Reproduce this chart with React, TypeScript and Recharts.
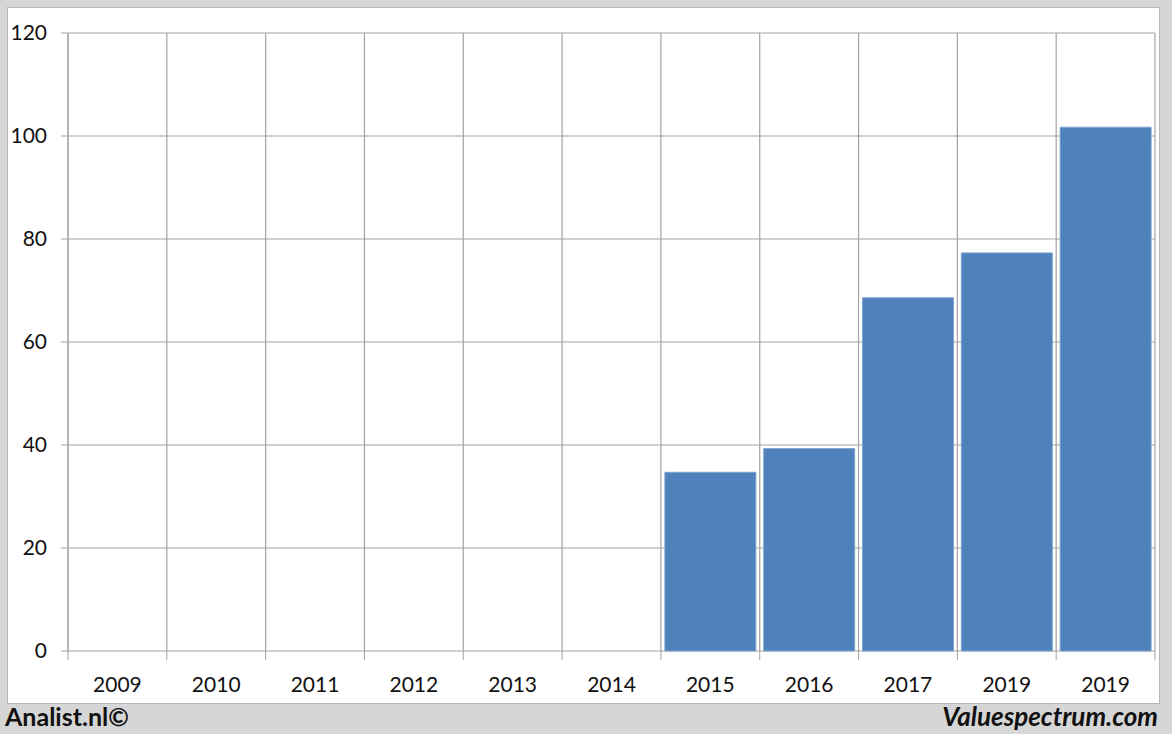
import { Bar, BarChart, CartesianGrid, XAxis, YAxis } from "recharts";

const years = ["2009", "2010", "2011", "2012", "2013", "2014", "2015", "2016", "2017", "2019", "2019"];
const values: (number | null)[] = [null, null, null, null, null, null, 34.7, 39.3, 68.6, 77.3, 101.7];
const yTicks = [0, 20, 40, 60, 80, 100, 120];

const data = years.map((year, i) => ({ year, value: values[i] }));

const GRID = "#a3a3a3";
const FONT = "Lato, 'Liberation Sans', sans-serif";

// grid lines sit on the category boundaries, not on the tick centres
const boundaryLines = ({ offset }: { offset: { left: number; width: number } }) =>
  years.map((_, i) => offset.left + (i * offset.width) / years.length).concat(offset.left + offset.width);

const YearTick = (props: any) => {
  const { x, y, payload, index, visibleTicksCount } = props;
  const half = payload?.offset ?? 0;
  const last = index === visibleTicksCount - 1;
  return (
    <g>
      <line x1={x - half} y1={y} x2={x - half} y2={y + 9} stroke={GRID} />
      {last && <line x1={x + half} y1={y} x2={x + half} y2={y + 9} stroke={GRID} />}
      <text x={x} y={y + 41} textAnchor="middle" fill="#111" fontSize={21} fontFamily={FONT}>
        {payload.value}
      </text>
    </g>
  );
};

export default function App() {
  return (
    <div
      style={{
        position: "absolute",
        left: 0,
        top: 0,
        width: 1172,
        height: 734,
        background: "#d6d6d6",
        fontFamily: FONT,
      }}
    >
      <div
        style={{
          position: "absolute",
          left: 7,
          top: 7,
          width: 1151,
          height: 695,
          background: "#ffffff",
          border: "1px solid #b5b5b5",
        }}
      />
      <div style={{ position: "absolute", left: 0, top: 0 }}>
        <BarChart
          width={1172}
          height={734}
          data={data}
          margin={{ top: 33, right: 17, left: 8, bottom: 33 }}
          barCategoryGap="4%"
        >
          <CartesianGrid stroke={GRID} strokeWidth={1.2} verticalCoordinatesGenerator={boundaryLines} />
          <XAxis
            dataKey="year"
            height={50}
            axisLine={false}
            tickLine={false}
            tickSize={0}
            tickMargin={0}
            tick={<YearTick />}
            interval={0}
          />
          <YAxis
            width={60}
            domain={[0, 120]}
            ticks={yTicks}
            axisLine={{ stroke: GRID }}
            tickLine={{ stroke: GRID }}
            tickSize={7}
            tickMargin={14}
            tick={{ fill: "#111", fontSize: 21, fontFamily: FONT }}
            interval={0}
          />
          <Bar
            dataKey="value"
            fill="#4f81bd"
            stroke="#7fa3d0"
            strokeWidth={1}
            isAnimationActive={false}
          />
        </BarChart>
      </div>
      <div
        style={{
          position: "absolute",
          left: 5,
          top: 701,
          fontSize: 25,
          fontWeight: 700,
          color: "#111",
        }}
      >
        Analist.nl©
      </div>
      <div
        style={{
          position: "absolute",
          right: 14,
          top: 700,
          fontSize: 26,
          fontWeight: 700,
          fontStyle: "italic",
          color: "#111",
        }}
      >
        Valuespectrum.com
      </div>
    </div>
  );
}
